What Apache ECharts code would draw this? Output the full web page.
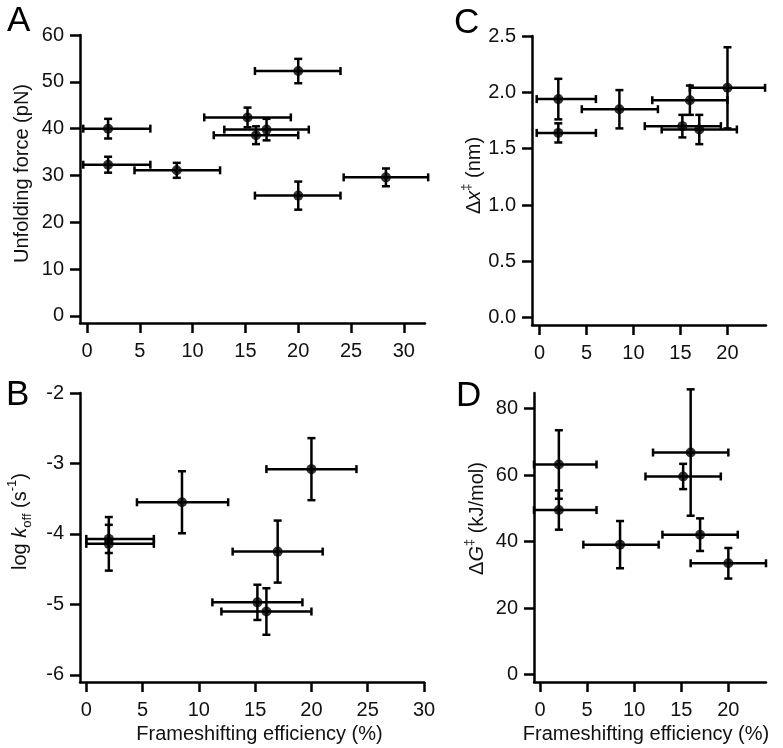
<!DOCTYPE html>
<html>
<head>
<meta charset="utf-8">
<script src="https://cdn.jsdelivr.net/npm/echarts@6/dist/echarts.min.js"></script>
<style>
  html, body { margin: 0; padding: 0; background: #fff; }
  #chart { width: 783px; height: 748px; }
</style>
</head>
<body>
<div id="chart"></div>
<script>
// panel A - unfolding force
const aX = [2, 2, 8.5, 15.2, 16, 17, 20, 20, 28.3];
const aXLo = [-0.35, -0.35, 4.5, 11.1, 12, 13, 15.9, 15.9, 24.3];
const aXHi = [6, 6, 12.6, 19.3, 20, 21, 24, 24, 32.3];
const aY = [40, 32.3, 31.1, 42.4, 38.6, 39.8, 52.3, 25.7, 29.6];
const aYErr = [2.1, 1.7, 1.6, 2.1, 1.9, 2.3, 2.6, 3.0, 1.9];

// panel B - log koff
const bX = [2, 2, 8.5, 20, 17, 15.2, 16];
const bXLo = [0, 0, 4.5, 16, 13, 11.2, 12];
const bXHi = [6, 6, 12.6, 24, 21, 19.2, 20];
const bY = [-4.07, -4.14, -3.55, -3.08, -4.25, -4.97, -5.10];
const bYErr = [0.20, 0.38, 0.44, 0.44, 0.44, 0.25, 0.33];

// panel C - delta x
const cX = [2, 2, 8.5, 16, 20, 15.2, 17];
const cXLo = [-0.3, -0.3, 4.5, 12, 16, 11.2, 13];
const cXHi = [6, 6, 12.6, 20, 24, 19.3, 21];
const cY = [1.94, 1.64, 1.85, 1.93, 2.04, 1.70, 1.67];
const cYErr = [0.18, 0.085, 0.17, 0.13, 0.36, 0.10, 0.13];

// panel D - delta G
const dX = [2, 2, 8.5, 16, 15.2, 17, 20];
const dXLo = [-0.64, -0.64, 4.6, 12, 11.2, 13, 16];
const dXHi = [6, 6, 12.6, 20, 19.2, 21, 24];
const dY = [63.2, 49.5, 39.1, 66.8, 59.6, 42.1, 33.5];
const dYErr = [10.3, 5.9, 7.1, 19.0, 3.8, 4.9, 4.6];

const xTicksWide = [0, 5, 10, 15, 20, 25, 30];
const xTicksNarrow = [0, 5, 10, 15, 20];
const aYTicks = [0, 10, 20, 30, 40, 50, 60];
const bYTicks = [-6, -5, -4, -3, -2];
const cYTicks = [0, 0.5, 1, 1.5, 2, 2.5];
const dYTicks = [0, 20, 40, 60, 80];

const FONT = '"Liberation Sans", Arial, sans-serif';
const INK = '#111';

function drawErr(params, api) {
  const x = api.value(0), y = api.value(1);
  const lo = api.coord([api.value(2), y]);
  const hi = api.coord([api.value(3), y]);
  const top = api.coord([x, y + api.value(4)]);
  const bot = api.coord([x, y - api.value(4)]);
  const cap = 4;
  const seg = (x1, y1, x2, y2) => ({
    type: 'line',
    shape: { x1, y1, x2, y2 },
    style: { stroke: '#000', lineWidth: 2.5 }
  });
  return {
    type: 'group',
    children: [
      seg(lo[0], lo[1], hi[0], hi[1]),
      seg(lo[0], lo[1] - cap, lo[0], lo[1] + cap),
      seg(hi[0], hi[1] - cap, hi[0], hi[1] + cap),
      seg(top[0], top[1], bot[0], bot[1]),
      seg(top[0] - cap, top[1], top[0] + cap, top[1]),
      seg(bot[0] - cap, bot[1], bot[0] + cap, bot[1])
    ]
  };
}

function panelSeries(i, xs, xlo, xhi, ys, yerr) {
  const data = xs.map((x, k) => [x, ys[k], xlo[k], xhi[k], yerr[k]]);
  return [
    {
      type: 'custom', xAxisIndex: i, yAxisIndex: i, data,
      encode: { x: 0, y: 1 }, renderItem: drawErr, silent: true, z: 2
    },
    {
      type: 'scatter', xAxisIndex: i, yAxisIndex: i,
      data: data.map(d => [d[0], d[1]]),
      symbolSize: 10, itemStyle: { color: '#000' }, silent: true, z: 3
    }
  ];
}

const axisLine = { show: true, onZero: false, lineStyle: { color: '#000', width: 2.5 } };
const labelBase = { fontSize: 20, color: INK, fontFamily: FONT };

function xAx(i, min, max, ticks, name, pad) {
  return {
    type: 'value', gridIndex: i, min, max,
    axisLine,
    axisTick: { show: true, inside: false, length: 10, customValues: ticks, lineStyle: { color: '#000', width: 2.5 } },
    axisLabel: Object.assign({ margin: 18, customValues: ticks }, labelBase),
    splitLine: { show: false },
    name: name || '',
    nameLocation: 'middle',
    nameGap: 42,
    nameTextStyle: { fontSize: 20, color: INK, fontFamily: FONT, padding: pad || 0 }
  };
}

const rich = {
  n: { fontSize: 20, color: INK, fontFamily: FONT, lineHeight: 28 },
  i: { fontSize: 20, color: INK, fontFamily: FONT, fontStyle: 'italic', lineHeight: 28 },
  sup: { fontSize: 13, color: INK, fontFamily: FONT, verticalAlign: 'top', lineHeight: 28 },
  sub: { fontSize: 13, color: INK, fontFamily: FONT, verticalAlign: 'bottom', lineHeight: 28 }
};

function yAx(i, min, max, ticks, name, gap, pad, fmt) {
  return {
    type: 'value', gridIndex: i, min, max,
    axisLine,
    axisTick: { show: true, inside: false, length: 10, customValues: ticks, lineStyle: { color: '#000', width: 2.5 } },
    axisLabel: Object.assign({ margin: 16, customValues: ticks, formatter: fmt }, labelBase),
    splitLine: { show: false },
    name,
    nameLocation: 'middle',
    nameGap: gap,
    nameTextStyle: { fontSize: 20, color: INK, fontFamily: FONT, padding: pad, rich }
  };
}

const panelLetter = (text, left, top) => ({
  type: 'text', left, top,
  style: { text, fontSize: 35, fill: '#000', fontFamily: FONT }
});

const chart = echarts.init(document.getElementById('chart'));
chart.setOption({
  animation: false,
  backgroundColor: '#fff',
  grid: [
    { left: 80, top: 35, width: 345, height: 288 },
    { left: 80, top: 393, width: 344, height: 289 },
    { left: 532, top: 36, width: 234, height: 289 },
    { left: 534, top: 393, width: 232, height: 289 }
  ],
  xAxis: [
    xAx(0, -0.66, 32, xTicksWide),
    xAx(1, -0.56, 30, xTicksWide, 'Frameshifting efficiency (%)', [0, 0, 0, 15]),
    xAx(2, -0.8, 24.1, xTicksNarrow),
    xAx(3, -0.64, 24, xTicksNarrow, 'Frameshifting efficiency (%)', [0, 8, 0, 0])
  ],
  yAxis: [
    yAx(0, -1.5, 60, aYTicks, 'Unfolding force (pN)', 48, [0, 0, 0, 11]),
    yAx(1, -6.1, -2, bYTicks, '{n|log }{i|k}{sub|off}{n| (s}{sup|-1}{n|)}', 46, [0, 0, 0, 32]),
    yAx(2, -0.065, 2.5, cYTicks, '{n|Δ}{i|x}{sup|‡}{n| (nm)}', 42, [0, 0, 0, 10], v => v.toFixed(1)),
    yAx(3, -2.2, 84.7, dYTicks, '{n|Δ}{i|G}{sup|‡}{n| (kJ/mol)}', 43, [0, 0, 0, 38])
  ],
  graphic: [
    panelLetter('A', 7, 4),
    panelLetter('B', 6, 378),
    panelLetter('C', 454, 6),
    panelLetter('D', 456, 379)
  ],
  series: [
    ...panelSeries(0, aX, aXLo, aXHi, aY, aYErr),
    ...panelSeries(1, bX, bXLo, bXHi, bY, bYErr),
    ...panelSeries(2, cX, cXLo, cXHi, cY, cYErr),
    ...panelSeries(3, dX, dXLo, dXHi, dY, dYErr)
  ]
});
</script>
</body>
</html>
